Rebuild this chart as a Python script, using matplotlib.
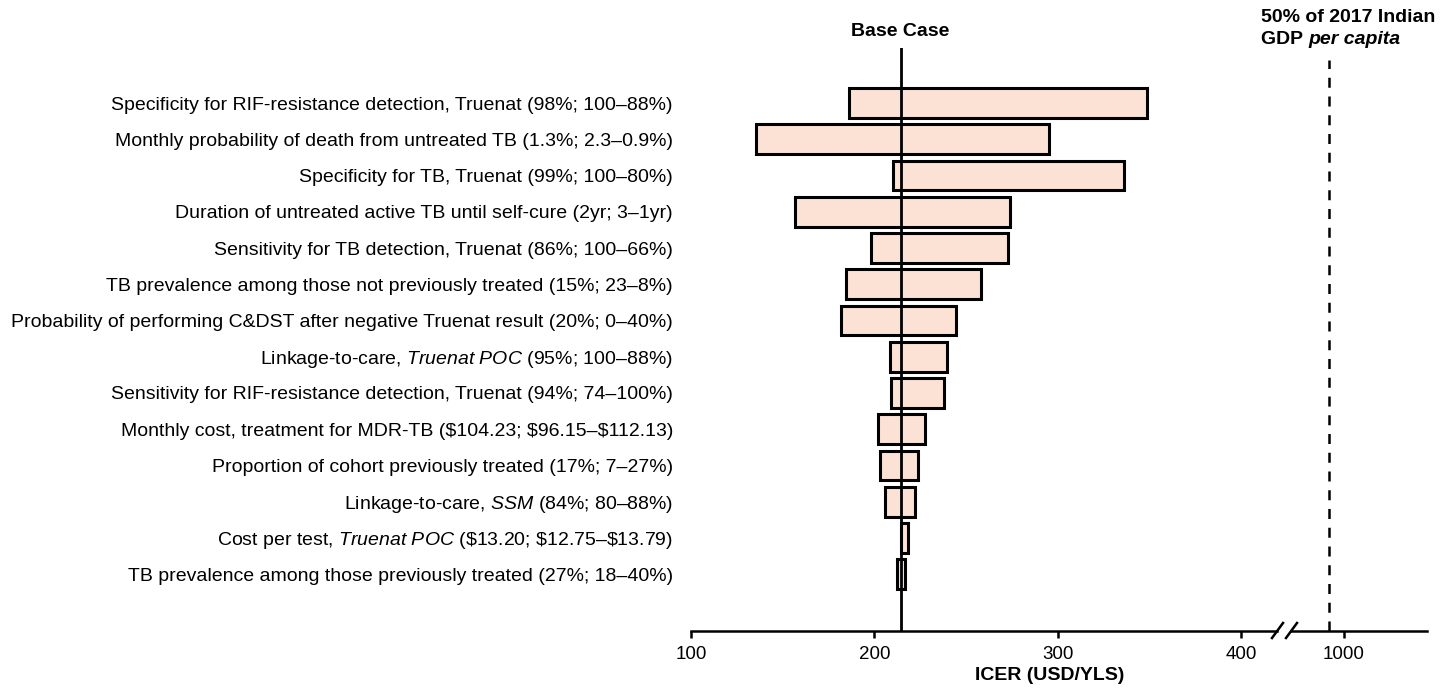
import matplotlib
matplotlib.use("Agg")
import matplotlib.pyplot as plt
from matplotlib.lines import Line2D

FONT = ['Liberation Sans', 'DejaVu Sans']
plt.rcParams['font.family'] = FONT
plt.rcParams['mathtext.fontset'] = 'custom'
plt.rcParams['mathtext.rm'] = 'Liberation Sans'
plt.rcParams['mathtext.it'] = 'Liberation Sans:italic'
plt.rcParams['mathtext.bf'] = 'Liberation Sans:bold'

labels = [
    "Specificity for RIF-resistance detection, Truenat (98%; 100–88%)",
    "Monthly probability of death from untreated TB (1.3%; 2.3–0.9%)",
    "Specificity for TB, Truenat (99%; 100–80%)",
    "Duration of untreated active TB until self-cure (2yr; 3–1yr)",
    "Sensitivity for TB detection, Truenat (86%; 100–66%)",
    "TB prevalence among those not previously treated (15%; 23–8%)",
    "Probability of performing C&DST after negative Truenat result (20%; 0–40%)",
    r"Linkage-to-care, $\mathit{Truenat\ POC}$ (95%; 100–88%)",
    "Sensitivity for RIF-resistance detection, Truenat (94%; 74–100%)",
    "Monthly cost, treatment for MDR-TB ($104.23; $96.15–$112.13)",
    "Proportion of cohort previously treated (17%; 7–27%)",
    r"Linkage-to-care, $\mathit{SSM}$ (84%; 80–88%)",
    r"Cost per test, $\mathit{Truenat\ POC}$ (\$13.20; \$12.75–\$13.79)",
    "TB prevalence among those previously treated (27%; 18–40%)",
]
low = [186.2, 135.5, 210.2, 156.7, 198.2, 184.6, 181.8, 208.6, 209.0, 202.0, 203.0, 206.0, 214.5, 212.4]
high = [349.0, 295.3, 336.0, 274.0, 273.0, 258.0, 244.8, 239.7, 238.0, 227.7, 223.8, 222.0, 218.4, 216.7]
base_case = 214.6
gdp_threshold = 992
left_ticks = [100, 200, 300, 400]
right_ticks = [1000]

W, H = 1451, 690
fig = plt.figure(figsize=(W / 100, H / 100), dpi=100)

ax_bottom_px, ax_top_px = 631, 48
lx0, lx1 = 691, 1277
rx0, rx1 = 1291, 1427
pxper = 1.833
fb = 1 - ax_bottom_px / H
fh = (ax_bottom_px - ax_top_px) / H
axL = fig.add_axes([lx0 / W, fb, (lx1 - lx0) / W, fh])
axR = fig.add_axes([rx0 / W, fb, (rx1 - rx0) / W, fh])
axL.set_xlim(100, 100 + (lx1 - lx0) / pxper)
axR.set_xlim(1000 - (1344 - rx0) / pxper, 1000 + (rx1 - 1344) / pxper)

n = len(labels)
ypos = list(range(n))
ylim = (14.57, -1.52)
for ax in (axL, axR):
    ax.set_ylim(*ylim)
    for s in ('top', 'right', 'left'):
        ax.spines[s].set_visible(False)
    ax.spines['bottom'].set_linewidth(1.8)
    ax.tick_params(axis='x', length=5, width=1.8, labelsize=13.5, pad=6)
    ax.patch.set_alpha(0)

widths = [h - l for l, h in zip(low, high)]
axL.barh(ypos, widths, left=low, height=0.82, color='#FBE2D5',
         edgecolor='black', linewidth=2.2, zorder=2)
axL.axvline(base_case, color='black', lw=2.0, zorder=3)

axL.set_yticks(ypos)
axL.set_yticklabels(labels, fontsize=14)
axL.tick_params(axis='y', length=0, pad=13)
axR.set_yticks([])

axL.set_xticks(left_ticks)
axR.set_xticks(right_ticks)

# dashed threshold line
axR.plot([gdp_threshold, gdp_threshold], [ylim[0], -1.19], color='black',
         lw=1.8, ls=(0, (4, 3.5)), zorder=3, clip_on=False)

# Base case text
fig.text(900 / W, 1 - 32 / H, "Base Case", ha='center', va='center',
         fontsize=14, fontweight='bold')

# GDP annotation
fig.text(1261 / W, 1 - 18 / H, "50% of 2017 Indian", ha='left', va='center',
         fontsize=14, fontweight='bold')
t2 = fig.text(1261 / W, 1 - 40 / H, "GDP ", ha='left', va='center',
              fontsize=14, fontweight='bold')
fig.canvas.draw()
bb = t2.get_window_extent()
fig.text(bb.x1 / W, 1 - 40 / H, "per capita", ha='left', va='center',
         fontsize=14, fontweight='bold', fontstyle='italic')

# x-axis title
fig.text(1050 / W, 1 - 676 / H, "ICER (USD/YLS)", ha='center', va='center',
         fontsize=14, fontweight='bold')

# break marks
for x0 in (1272, 1286):
    fig.add_artist(Line2D([x0 / W, (x0 + 11) / W], [1 - 638 / H, 1 - 623 / H],
                          color='black', lw=1.8))

fig.savefig("out.png", dpi=100)
